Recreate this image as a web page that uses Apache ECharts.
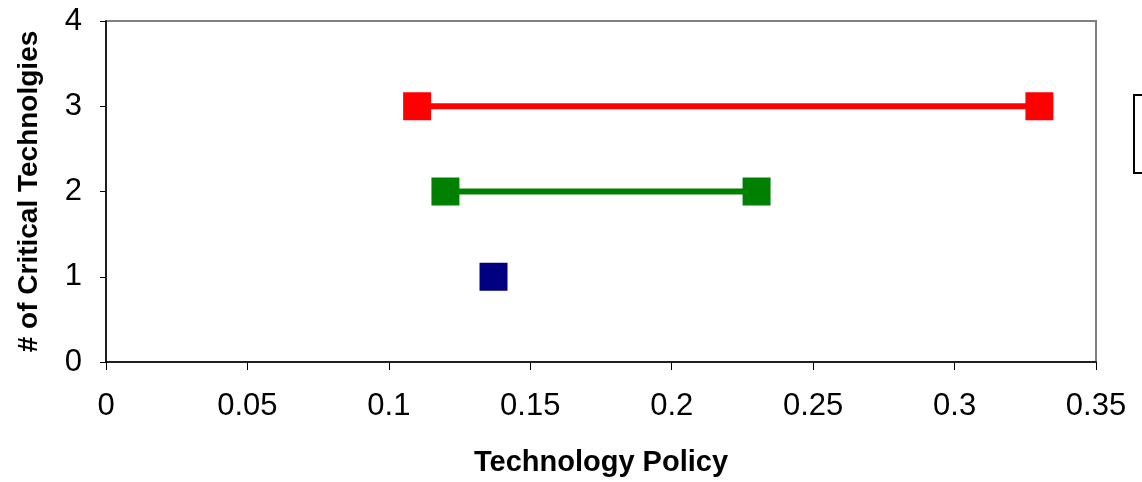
<!DOCTYPE html>
<html>
<head>
<meta charset="utf-8">
<script src="https://cdn.jsdelivr.net/npm/echarts@6/dist/echarts.min.js"></script>
<style>
  html, body { margin: 0; padding: 0; background: #fff; }
  #chart { width: 1142px; height: 482px; }
</style>
</head>
<body>
<div id="chart"></div>
<script>
// Ranges of technology policy scores per number of critical technologies
const seriesNames = ['Three', 'Two', 'One'];
const seriesColors = ['#ff0000', '#008000', '#000080'];
const policyValues = [
  [0.11, 0.33],
  [0.12, 0.23],
  [0.137]
];
const criticalCounts = [3, 2, 1];

const xTitle = 'Technology Policy';
const yTitle = '# of Critical Technolgies';

const chart = echarts.init(document.getElementById('chart'));

const series = seriesNames.map((name, i) => ({
  name: name,
  type: 'line',
  data: policyValues[i].map(v => [v, criticalCounts[i]]),
  symbol: 'rect',
  symbolSize: 28,
  showSymbol: true,
  lineStyle: { color: seriesColors[i], width: 6 },
  itemStyle: { color: seriesColors[i] },
  emphasis: { disabled: true },
  animation: false
}));

chart.setOption({
  animation: false,
  grid: {
    left: 106, right: 46, top: 21, bottom: 119,
    show: true, borderColor: '#808080', borderWidth: 2, backgroundColor: '#fff'
  },
  xAxis: {
    type: 'value', min: 0, max: 0.35, interval: 0.05,
    name: xTitle, nameLocation: 'middle', nameGap: 86,
    nameTextStyle: { fontFamily: 'Liberation Sans', fontWeight: 'bold', fontSize: 29, color: '#000' },
    axisLine: { show: true, onZero: false, lineStyle: { color: '#000', width: 1.5 } },
    axisTick: { show: true, length: 8, inside: false, lineStyle: { color: '#000' } },
    axisLabel: { fontFamily: 'Liberation Sans', fontSize: 31, color: '#000', margin: 29,
      formatter: v => String(+v.toFixed(2)) },
    splitLine: { show: false }
  },
  yAxis: {
    type: 'value', min: 0, max: 4, interval: 1,
    name: yTitle, nameLocation: 'middle', nameGap: 63, nameRotate: 90,
    nameTextStyle: { fontFamily: 'Liberation Sans', fontWeight: 'bold', fontSize: 28, color: '#000' },
    axisLine: { show: true, onZero: false, lineStyle: { color: '#000', width: 1.5 } },
    axisTick: { show: true, length: 6, lineStyle: { color: '#000' } },
    axisLabel: { fontFamily: 'Liberation Sans', fontSize: 31, color: '#000', margin: 24 },
    splitLine: { show: false }
  },
  legend: { show: false },
  graphic: [{
    type: 'rect',
    shape: { x: 1134, y: 95, width: 40, height: 78 },
    style: { fill: '#fff', stroke: '#000', lineWidth: 2 }
  }],
  series: series
});
</script>
</body>
</html>
